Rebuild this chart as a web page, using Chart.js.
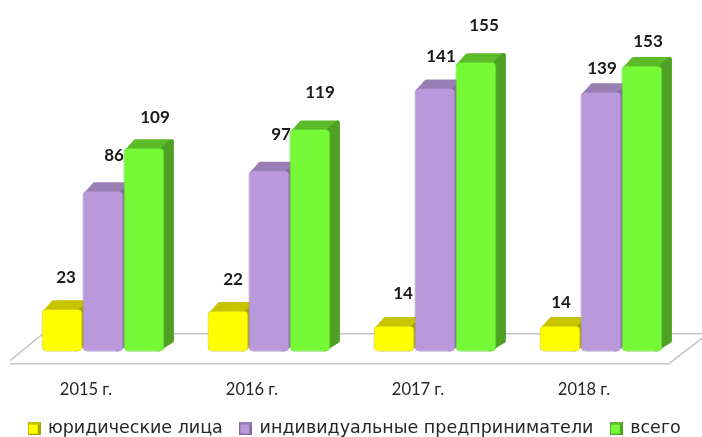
<!DOCTYPE html>
<html><head><meta charset="utf-8">
<style>html,body{margin:0;padding:0;background:#fff}#w{width:702px;height:437px;position:relative}canvas{filter:blur(0.5px)}</style>
<script src="https://cdn.jsdelivr.net/npm/chart.js@4"></script>
</head><body><div id="w"><canvas id="c"></canvas></div>
<script>
const categories = ['2015 г.', '2016 г.', '2017 г.', '2018 г.'];
const seriesNames = ['юридические лица', 'индивидуальные предприниматели', 'всего'];
const legalEntities = [23, 22, 14, 14];
const entrepreneurs = [86, 97, 141, 139];
const total = [109, 119, 155, 153];

// Manual data-label placement (px from the bar's top centre), per series then category
const labelShift = [
  [[4,-31],[5,-31],[9,-32],[1,-23]],
  [[11,-35],[12,-36],[6,-31],[1,-23]],
  [[11,-30],[10,-37],[8,-36],[6,-24]]
];
const styles = [
  {front:'#ffff00', edge:'#c4c22a', top:'#c9c400', side:'#a8a400'},
  {front:'#b998dc', edge:'#a086c0', top:'#9a7fb4', side:'#8468a0'},
  {front:'#76f936', edge:'#62d02e', top:'#5dbb2a', side:'#4fa126'}
];
const DX = 10, DY = 9;

function marker(s){
  const m = document.createElement('canvas'); m.width = 13; m.height = 13;
  const g = m.getContext('2d');
  g.fillStyle = s.side; g.fillRect(0,0,13,13);
  g.fillStyle = s.front; g.fillRect(1,3,9,9);
  g.fillStyle = s.top; g.fillRect(1,0,11,3);
  return m;
}

const depth3d = {
  id:'depth3d',
  beforeDatasetsDraw(chart){
    const {ctx, scales:{y}} = chart;
    const b = y.getPixelForValue(0);
    ctx.save();
    ctx.strokeStyle = '#c6c6c6'; ctx.lineWidth = 1.6;
    ctx.beginPath();
    ctx.moveTo(10, b+12); ctx.lineTo(669, b+12); ctx.lineTo(704, b-15);
    ctx.moveTo(702, b-18); ctx.lineTo(43, b-18); ctx.lineTo(10, b+9);
    ctx.stroke();
    chart.data.datasets.forEach((d,i)=>{
      const st = styles[i];
      chart.getDatasetMeta(i).data.forEach(el=>{
        const l = el.x - el.width/2, r = el.x + el.width/2, t = el.y;
        ctx.lineJoin = 'round'; ctx.lineWidth = 5;
        ctx.fillStyle = st.top; ctx.strokeStyle = st.top;
        ctx.beginPath();
        ctx.moveTo(l+4,t+3); ctx.lineTo(l+DX+2,t-DY+3); ctx.lineTo(r+DX-3,t-DY+3); ctx.lineTo(r-3,t+3);
        ctx.closePath(); ctx.fill(); ctx.stroke();
        ctx.fillStyle = st.side; ctx.strokeStyle = st.side;
        ctx.beginPath();
        ctx.moveTo(r-3,t+3); ctx.lineTo(r+DX-3,t-DY+3); ctx.lineTo(r+DX-3,b-DY-2); ctx.lineTo(r-6,b-3);
        ctx.closePath(); ctx.fill(); ctx.stroke();
      });
    });
    ctx.restore();
  },
  afterDatasetsDraw(chart){
    const {ctx} = chart;
    ctx.save();
    ctx.font = 'bold 17px Lato'; ctx.fillStyle = '#1a1a1a';
    ctx.textAlign = 'center'; ctx.textBaseline = 'middle';
    chart.data.datasets.forEach((d,i)=>{
      chart.getDatasetMeta(i).data.forEach((el,j)=>{
        const [sx,sy] = labelShift[i][j];
        ctx.fillText(String(d.data[j]), el.x+sx, el.y+sy);
      });
    });
    ctx.restore();
  }
};

const hiddenAxis = (position, width) => ({
  position, min:0, max:180, afterFit(s){ s.width = width; },
  grid:{display:false}, border:{display:false}, ticks:{display:false}
});

const seriesValues = [legalEntities, entrepreneurs, total];
new Chart(document.getElementById('c'), {
  type:'bar',
  data:{
    labels:categories,
    datasets:seriesNames.map((n,i)=>({
      label:n, data:seriesValues[i],
      backgroundColor:styles[i].front, borderColor:styles[i].edge,
      borderWidth:1, borderRadius:5, borderSkipped:false,
      categoryPercentage:0.74, barPercentage:1
    }))
  },
  options:{
    responsive:true, maintainAspectRatio:false, animation:false,
    layout:{padding:{left:8,right:0,top:15,bottom:-10}},
    plugins:{
      tooltip:{enabled:false},
      title:{display:false},
      legend:{
        position:'bottom',
        labels:{
          usePointStyle:true, pointStyleWidth:10, padding:18, boxHeight:13,
          color:'#262626', font:{family:'"DejaVu Sans"',size:17.5},
          generateLabels(chart){
            return chart.data.datasets.map((d,i)=>({
              text:d.label, pointStyle:marker(styles[i]), datasetIndex:i,
              fontColor:'#262626', lineWidth:0, hidden:false
            }));
          }
        }
      }
    },
    scales:{
      x:{
        afterFit(s){ s.height -= 18; },
        grid:{display:false}, border:{display:false},
        ticks:{labelOffset:-17, padding:20, color:'#262626', font:{family:'Lato',size:16.5}, maxRotation:0}
      },
      y:hiddenAxis('left',12),
      yRight:hiddenAxis('right',18)
    }
  },
  plugins:[depth3d]
});
</script></body></html>
